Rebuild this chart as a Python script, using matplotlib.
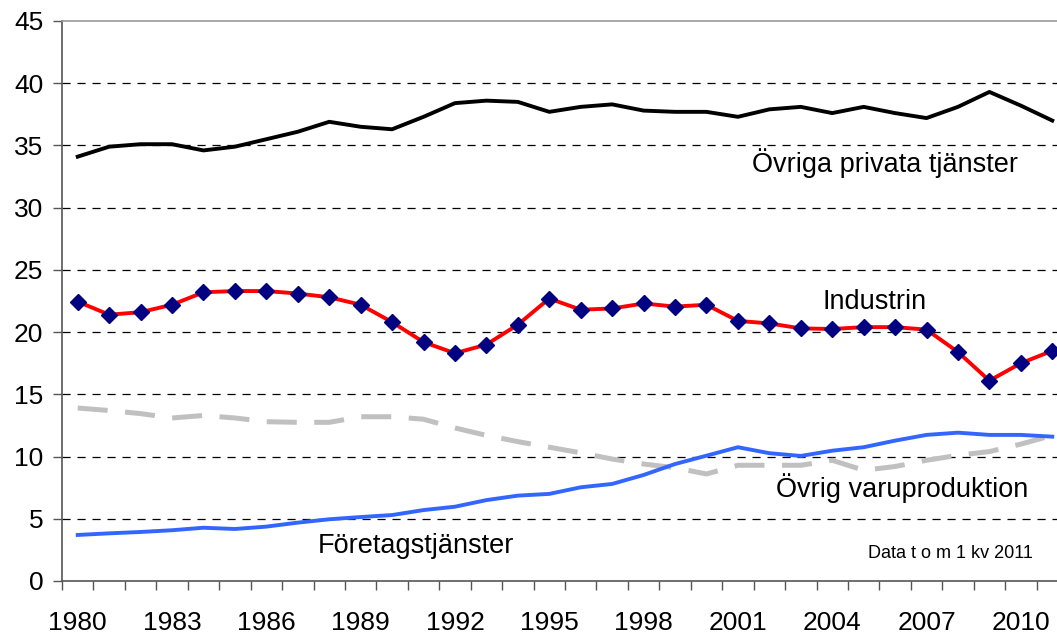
import matplotlib
matplotlib.use("Agg")
import matplotlib.pyplot as plt
import numpy as np

plt.rcParams['font.family'] = ['Liberation Sans', 'DejaVu Sans']

years = list(range(1980, 2012))
ovriga_privata = [34.1, 34.9, 35.1, 35.1, 34.6, 34.9, 35.5, 36.1, 36.9, 36.5,
                  36.3, 37.3, 38.4, 38.6, 38.5, 37.7, 38.1, 38.3, 37.8, 37.7,
                  37.7, 37.3, 37.9, 38.1, 37.6, 38.1, 37.6, 37.2, 38.1, 39.3,
                  38.2, 37.0]
industrin = [22.45, 21.4, 21.6, 22.2, 23.2, 23.3, 23.3, 23.1, 22.8, 22.2,
             20.8, 19.2, 18.3, 19.0, 20.6, 22.7, 21.8, 21.9, 22.3, 22.05,
             22.2, 20.9, 20.7, 20.3, 20.25, 20.4, 20.4, 20.2, 18.4, 16.1,
             17.5, 18.5]
ovrig_varu = [13.9, 13.7, 13.45, 13.1, 13.3, 13.1, 12.8, 12.75, 12.75, 13.2,
              13.2, 13.0, 12.3, 11.7, 11.2, 10.75, 10.3, 9.8, 9.4, 9.1,
              8.6, 9.3, 9.3, 9.3, 9.7, 8.9, 9.2, 9.7, 10.1, 10.4,
              11.0, 11.7]
foretag = [3.7, 3.83, 3.94, 4.08, 4.28, 4.18, 4.37, 4.69, 4.96, 5.14,
           5.3, 5.7, 5.97, 6.5, 6.86, 7.0, 7.53, 7.8, 8.52, 9.4,
           10.07, 10.75, 10.27, 10.05, 10.47, 10.75, 11.28, 11.74, 11.92, 11.74,
           11.74, 11.6]
xtick_labels = [str(y) for y in range(1980, 2011, 3)]
yticks = list(range(0, 46, 5))

W, H = 1057, 633
fig = plt.figure(figsize=(W / 100, H / 100), dpi=100)
left, right, top, bottom = 62, 1068, 21, 581
ax = fig.add_axes([left / W, 1 - bottom / H, (right - left) / W, (bottom - top) / H])
ax.set_xlim(1979.5, 2011.5)
ax.set_ylim(0, 45)

for yv in yticks[1:-1]:
    ax.axhline(yv, color='black', lw=0.9, dashes=(6.5, 5.5), zorder=1)

ax.plot(years, ovriga_privata, color='black', lw=2.8, zorder=3)
ax.plot(years, ovrig_varu, color='#c0c0c0', lw=3.6, dashes=(6, 3.5), zorder=2)
ax.plot(years, foretag, color='#3366ff', lw=2.8, zorder=3)
ax.plot(years, industrin, color='#ff0000', lw=2.8, zorder=4,
        marker='D', markersize=8.5, markerfacecolor='#000080', markeredgecolor='#000080')

ax.spines['right'].set_visible(False)
ax.spines['top'].set_color('#999999')
ax.spines['top'].set_linewidth(1.2)
ax.spines['left'].set_color('#555555')
ax.spines['left'].set_linewidth(1.2)
ax.spines['bottom'].set_color('#555555')
ax.spines['bottom'].set_linewidth(1.2)

ax.set_yticks(yticks)
ax.set_yticklabels([str(v) for v in yticks], fontsize=19)
ax.tick_params(axis='y', direction='out', length=6.5, width=1, color='#555555', pad=7)

ax.set_xticks(np.arange(1979.5, 2011.6, 1.0))
ax.set_xticklabels([])
ax.tick_params(axis='x', which='major', direction='out', length=6.5, width=1, color='#555555')
ax.set_xticks(list(range(1980, 2011, 3)), minor=True)
ax.set_xticklabels(xtick_labels, minor=True, fontsize=19)
ax.tick_params(axis='x', which='minor', length=0, pad=21.5)

ax.text(2001.45, 32.9, 'Övriga privata tjänster', fontsize=19.5, va='baseline', ha='left')
ax.text(2003.7, 21.83, 'Industrin', fontsize=19.5, va='baseline', ha='left')
ax.text(2002.2, 6.73, 'Övrig varuproduktion', fontsize=19.5, va='baseline', ha='left')
ax.text(1987.64, 2.28, 'Företagstjänster', fontsize=19.5, va='baseline', ha='left')
ax.text(2005.14, 1.82, 'Data t o m 1 kv 2011', fontsize=13, va='baseline', ha='left')

fig.savefig('out.png', dpi=100)
